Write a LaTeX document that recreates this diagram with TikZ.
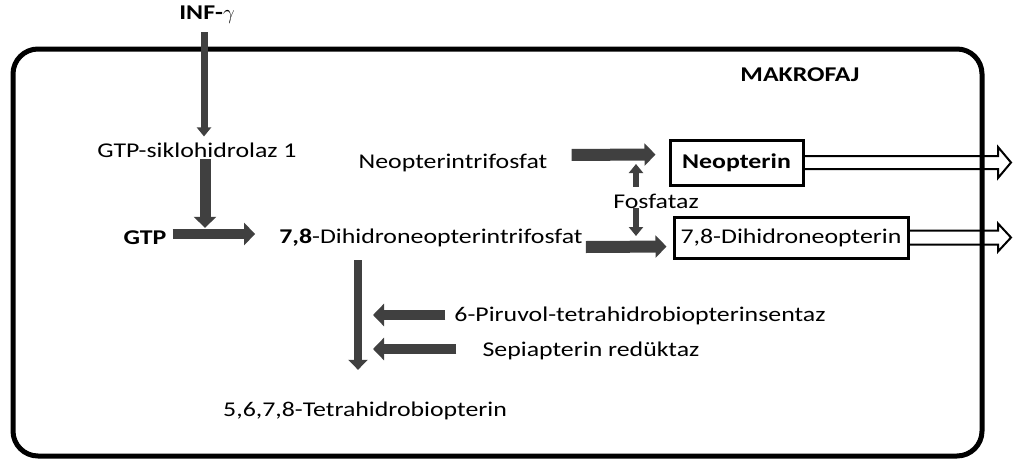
\documentclass[tikz,border=0pt]{standalone}
\usepackage{fontspec}
\setmainfont{Carlito}[FakeStretch=1.23]
\usetikzlibrary{positioning,arrows.meta,calc}
\definecolor{arrowgray}{HTML}{404040}
\tikzset{
  fatarrow/.style={draw=arrowgray,line width=12pt,-{Triangle[width=22pt,length=11pt]}},
  midarrow/.style={draw=arrowgray,line width=8pt,-{Triangle[width=19pt,length=10pt]}},
  slimarrow/.style={draw=arrowgray,line width=6pt,-{Triangle[width=14pt,length=9pt]}},
  productbox/.style={draw,line width=3pt,inner sep=2pt},
  hollowarrow/.style={draw,line width=2pt,line join=miter}
}

\begin{document}
\begin{tikzpicture}[x=1pt,y=-1pt,font=\fontsize{21}{25}\selectfont,inner sep=3pt]
                \useasboundingbox (0,0) rectangle (1014,463);
                \draw[line width=5pt,rounded corners=25pt] (13,49) rectangle (982,456);
                \node (M) at (800,75) {\textbf{MAKROFAJ}};
                \node (INF) at (207,15) {\textbf{INF-}$\gamma$};
                \node (GCH) at (197,150) {GTP-siklohidrolaz 1};
                \node (GTP) at (145,238) {\textbf{GTP}};
                \node (DNTP) at (431,238) {\textbf{7,8}-Dihidroneopterintrifosfat};
                \node (NTP) at (453,163) {Neopterintrifosfat};
                \node[productbox,minimum width=133pt,minimum height=45pt] (N) at (736.5,162.5) {\textbf{Neopterin}};
                \node[productbox,minimum width=234pt,minimum height=41pt] (DN) at (791,237.5) {7,8-Dihidroneopterin};
                \node (F) at (656,201) {Fosfataz};
                \node (PTS) at (640,316) {6-Piruvol-tetrahidrobiopterinsentaz};
                \node (SR) at (591,351) {Sepiapterin redüktaz};
                \node[anchor=west] (BH) at (220,411) {5,6,7,8-Tetrahidrobiopterin};
                \coordinate (x1) at (204,0);
                \coordinate (x2) at (205,0);
                \coordinate (x3) at (636,0);
                \coordinate (x4) at (358,0);
                \coordinate (E) at (1011,0);
                \draw[slimarrow,line width=7pt,shorten <=5pt,shorten >=3pt] (INF.south -| x1) -- (GCH.north -| x1);
                \draw[fatarrow,line width=11pt,shorten <=-2pt] (GCH.south -| x2) -- (GTP.north -| x2);
                \draw[fatarrow,line width=10pt,shorten <=3pt,shorten >=21pt] ([yshift=4pt]GTP.east) -- ([yshift=4pt]DNTP.west);
                \draw[fatarrow,shorten <=21pt,shorten >=13pt] ([yshift=8pt]NTP.east) -- ([yshift=8pt]N.west);
                \draw[fatarrow,shorten >=6pt] ([yshift=-9pt]DNTP.east) -- ([yshift=-9pt]DN.west);
                \draw[slimarrow,shorten <=4pt,shorten >=1pt] (F.north -| x3) -- (NTP.east -| x3);
                \draw[slimarrow,shorten <=-3pt,shorten >=2pt] (F.south -| x3) -- (DNTP.east -| x3);
                \draw[midarrow,shorten <=10pt,shorten >=29pt] (DNTP.south -| x4) -- (BH.north -| x4);
                \draw[fatarrow,line width=10pt,shorten <=6pt,shorten >=15pt] ([yshift=1pt]PTS.west) -- ([yshift=1pt]PTS.west -| x4);
                \draw[fatarrow,line width=10pt,shorten <=23pt,shorten >=15pt] ([yshift=2pt]SR.west) -- ([yshift=2pt]SR.west -| x4);
                \coordinate (Ntip) at (N.east -| E);
                \coordinate (DNtip) at (DN.east -| E);
                \draw[hollowarrow] ($(N.east)+(0,-6.5)$) -- ($(Ntip)+(-13,-6.5)$) -- ($(Ntip)+(-13,-15.5)$) -- (Ntip)
                    -- ($(Ntip)+(-13,15.5)$) -- ($(Ntip)+(-13,6.5)$) -- ($(N.east)+(0,6.5)$);
                \draw[hollowarrow] ($(DN.east)+(0,-7)$) -- ($(DNtip)+(-13,-7)$) -- ($(DNtip)+(-13,-14)$) -- (DNtip)
                    -- ($(DNtip)+(-13,14)$) -- ($(DNtip)+(-13,7)$) -- ($(DN.east)+(0,7)$);
            \end{tikzpicture}
\end{document}
